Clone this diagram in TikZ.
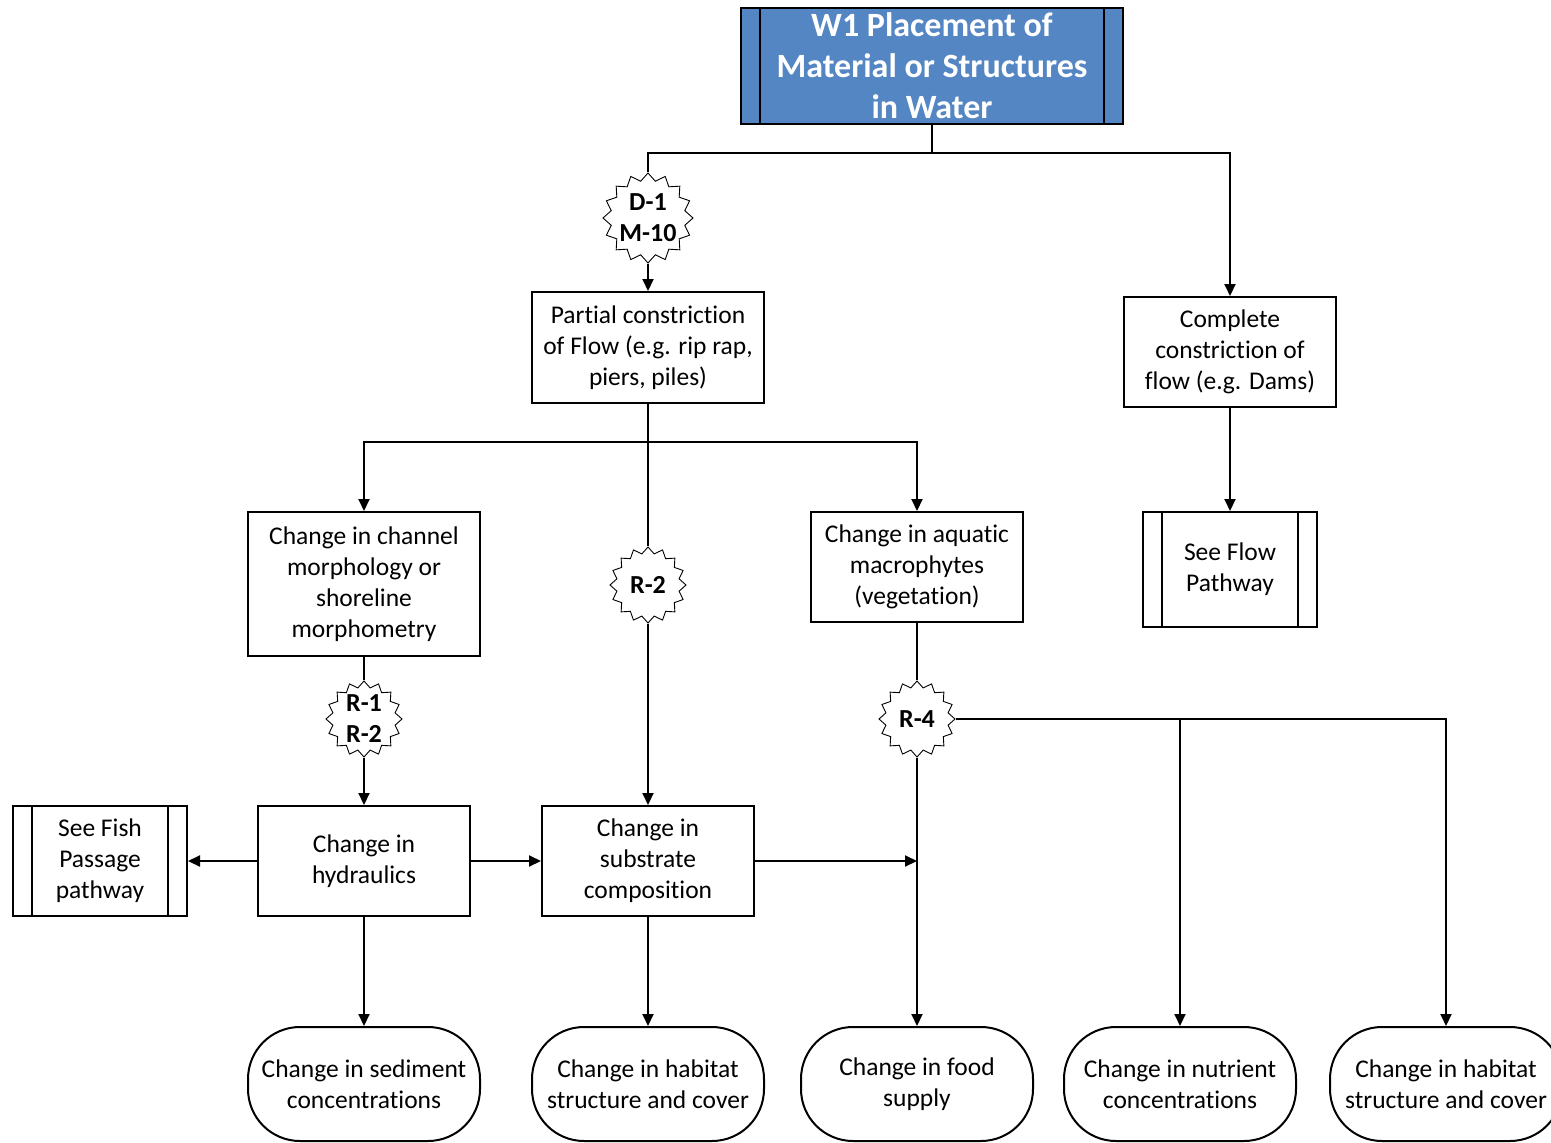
\documentclass[tikz,border=0pt]{standalone}
\usepackage{fontspec}
\setmainfont{Carlito}[Ligatures={NoCommon}]
\usetikzlibrary{shapes.geometric,arrows.meta}
\definecolor{titleblue}{RGB}{84,134,196}
\begin{document}
\begin{tikzpicture}[x=1pt,y=-1pt,
  every node/.style={font=\fontsize{25.5}{31}\selectfont, align=center, inner sep=1pt},
  box/.style={draw, line width=2pt, fill=white},
  proc/.style={box, path picture={
      \draw[line width=2pt] ([xshift=19pt]path picture bounding box.north west) -- ([xshift=19pt]path picture bounding box.south west);
      \draw[line width=2pt] ([xshift=-19pt]path picture bounding box.north east) -- ([xshift=-19pt]path picture bounding box.south east);}},
  oval/.style={draw, line width=2pt, rounded corners=52pt, minimum width=232pt, minimum height=114pt},
  burst/.style={star, star points=16, star point ratio=1.2, draw, line width=0.9pt, fill=white, inner sep=0pt},
  bursttext/.style={font=\fontsize{26}{31}\selectfont\bfseries},
  link/.style={line width=2pt},
  arr/.style={link, -{Triangle[length=12pt,width=11pt]}}
]
\useasboundingbox (0,0) rectangle (1551,1143);

% title
\node[proc, fill=titleblue, minimum width=382pt, minimum height=116pt,
      font=\fontsize{34}{41}\selectfont\bfseries, text=white] (top) at (932,66) {W1 Placement of\\Material or Structures\\in Water};

% second row
\node[box, minimum width=232pt, minimum height=111pt] (partial) at (648,347.5) {Partial constriction\\of Flow (e.g. rip rap,\\piers, piles)};
\node[box, minimum width=212pt, minimum height=110pt] (complete) at (1230,352) {Complete\\constriction of\\flow (e.g. Dams)};

% third row
\node[box, minimum width=232pt, minimum height=144pt] (channel) at (364,584) {Change in channel\\morphology or\\shoreline\\morphometry};
\node[box, minimum width=212pt, minimum height=110pt] (aquatic) at (917,567) {Change in aquatic\\macrophytes\\(vegetation)};
\node[proc, minimum width=174pt, minimum height=115pt] (seeflow) at (1230,569.5) {See Flow\\Pathway};

% fourth row
\node[box, minimum width=212pt, minimum height=110pt] (hydraulics) at (364,861) {Change in\\hydraulics};
\node[proc, minimum width=174pt, minimum height=110pt] (fish) at (100,861) {See Fish\\Passage\\pathway};
\node[box, minimum width=212pt, minimum height=110pt] (substrate) at (648,861) {Change in\\substrate\\composition};

% outcomes
\node[oval] (sediment) at (364,1084) {Change in sediment\\concentrations};
\node[oval] (habitatA) at (648,1084) {Change in habitat\\structure and cover};
\node[oval] (food) at (917,1084) {Change in food\\supply};
\node[oval] (nutrient) at (1180,1084) {Change in nutrient\\concentrations};
\node[oval] (habitatB) at (1446,1084) {Change in habitat\\structure and cover};

% starbursts
\node[burst, minimum size=90pt] (sA) at (648,218) {};
\node[bursttext] (tA) at (sA) {D-1\\M-10};
\node[burst, minimum size=76pt] (sB) at (648,585) {};
\node[bursttext] (tB) at (sB) {R-2};
\node[burst, minimum size=76pt] (sC) at (364,719) {};
\node[bursttext] (tC) at (sC) {R-1\\R-2};
\node[burst, minimum size=76pt] (sD) at (917,719) {};
\node[bursttext] (tD) at (sD) {R-4};

% connectors
\draw[link] (top.south) -- ++(0,28) -| (sA.north);
\draw[arr] (top.south) ++(0,28) -| (complete.north);
\draw[arr] (sA.south) -- (partial.north);

\draw[arr] (partial.south) -- ++(0,38) -| (channel.north);
\draw[arr] (partial.south) ++(0,38) -| (aquatic.north);
\draw[link] (partial.south) -- (sB.north);
\draw[arr] (sB.south) -- (substrate.north);

\draw[arr] (complete.south) -- (seeflow.north);

\draw[link] (channel.south) -- (sC.north);
\draw[arr] (sC.south) -- (hydraulics.north);
\draw[arr] (hydraulics.west) -- (fish.east);
\draw[arr] (hydraulics.east) -- (substrate.west);
\draw[arr] (substrate.east) -- (substrate.east -| sD.south);

\draw[link] (aquatic.south) -- (sD.north);
\draw[arr] (sD.south) -- (food.north);
\draw[arr] (sD.east) -| (habitatB.north);
\draw[arr] (sD.east -| nutrient.north) -- (nutrient.north);

\draw[arr] (hydraulics.south) -- (sediment.north);
\draw[arr] (substrate.south) -- (habitatA.north);
\end{tikzpicture}
\end{document}
